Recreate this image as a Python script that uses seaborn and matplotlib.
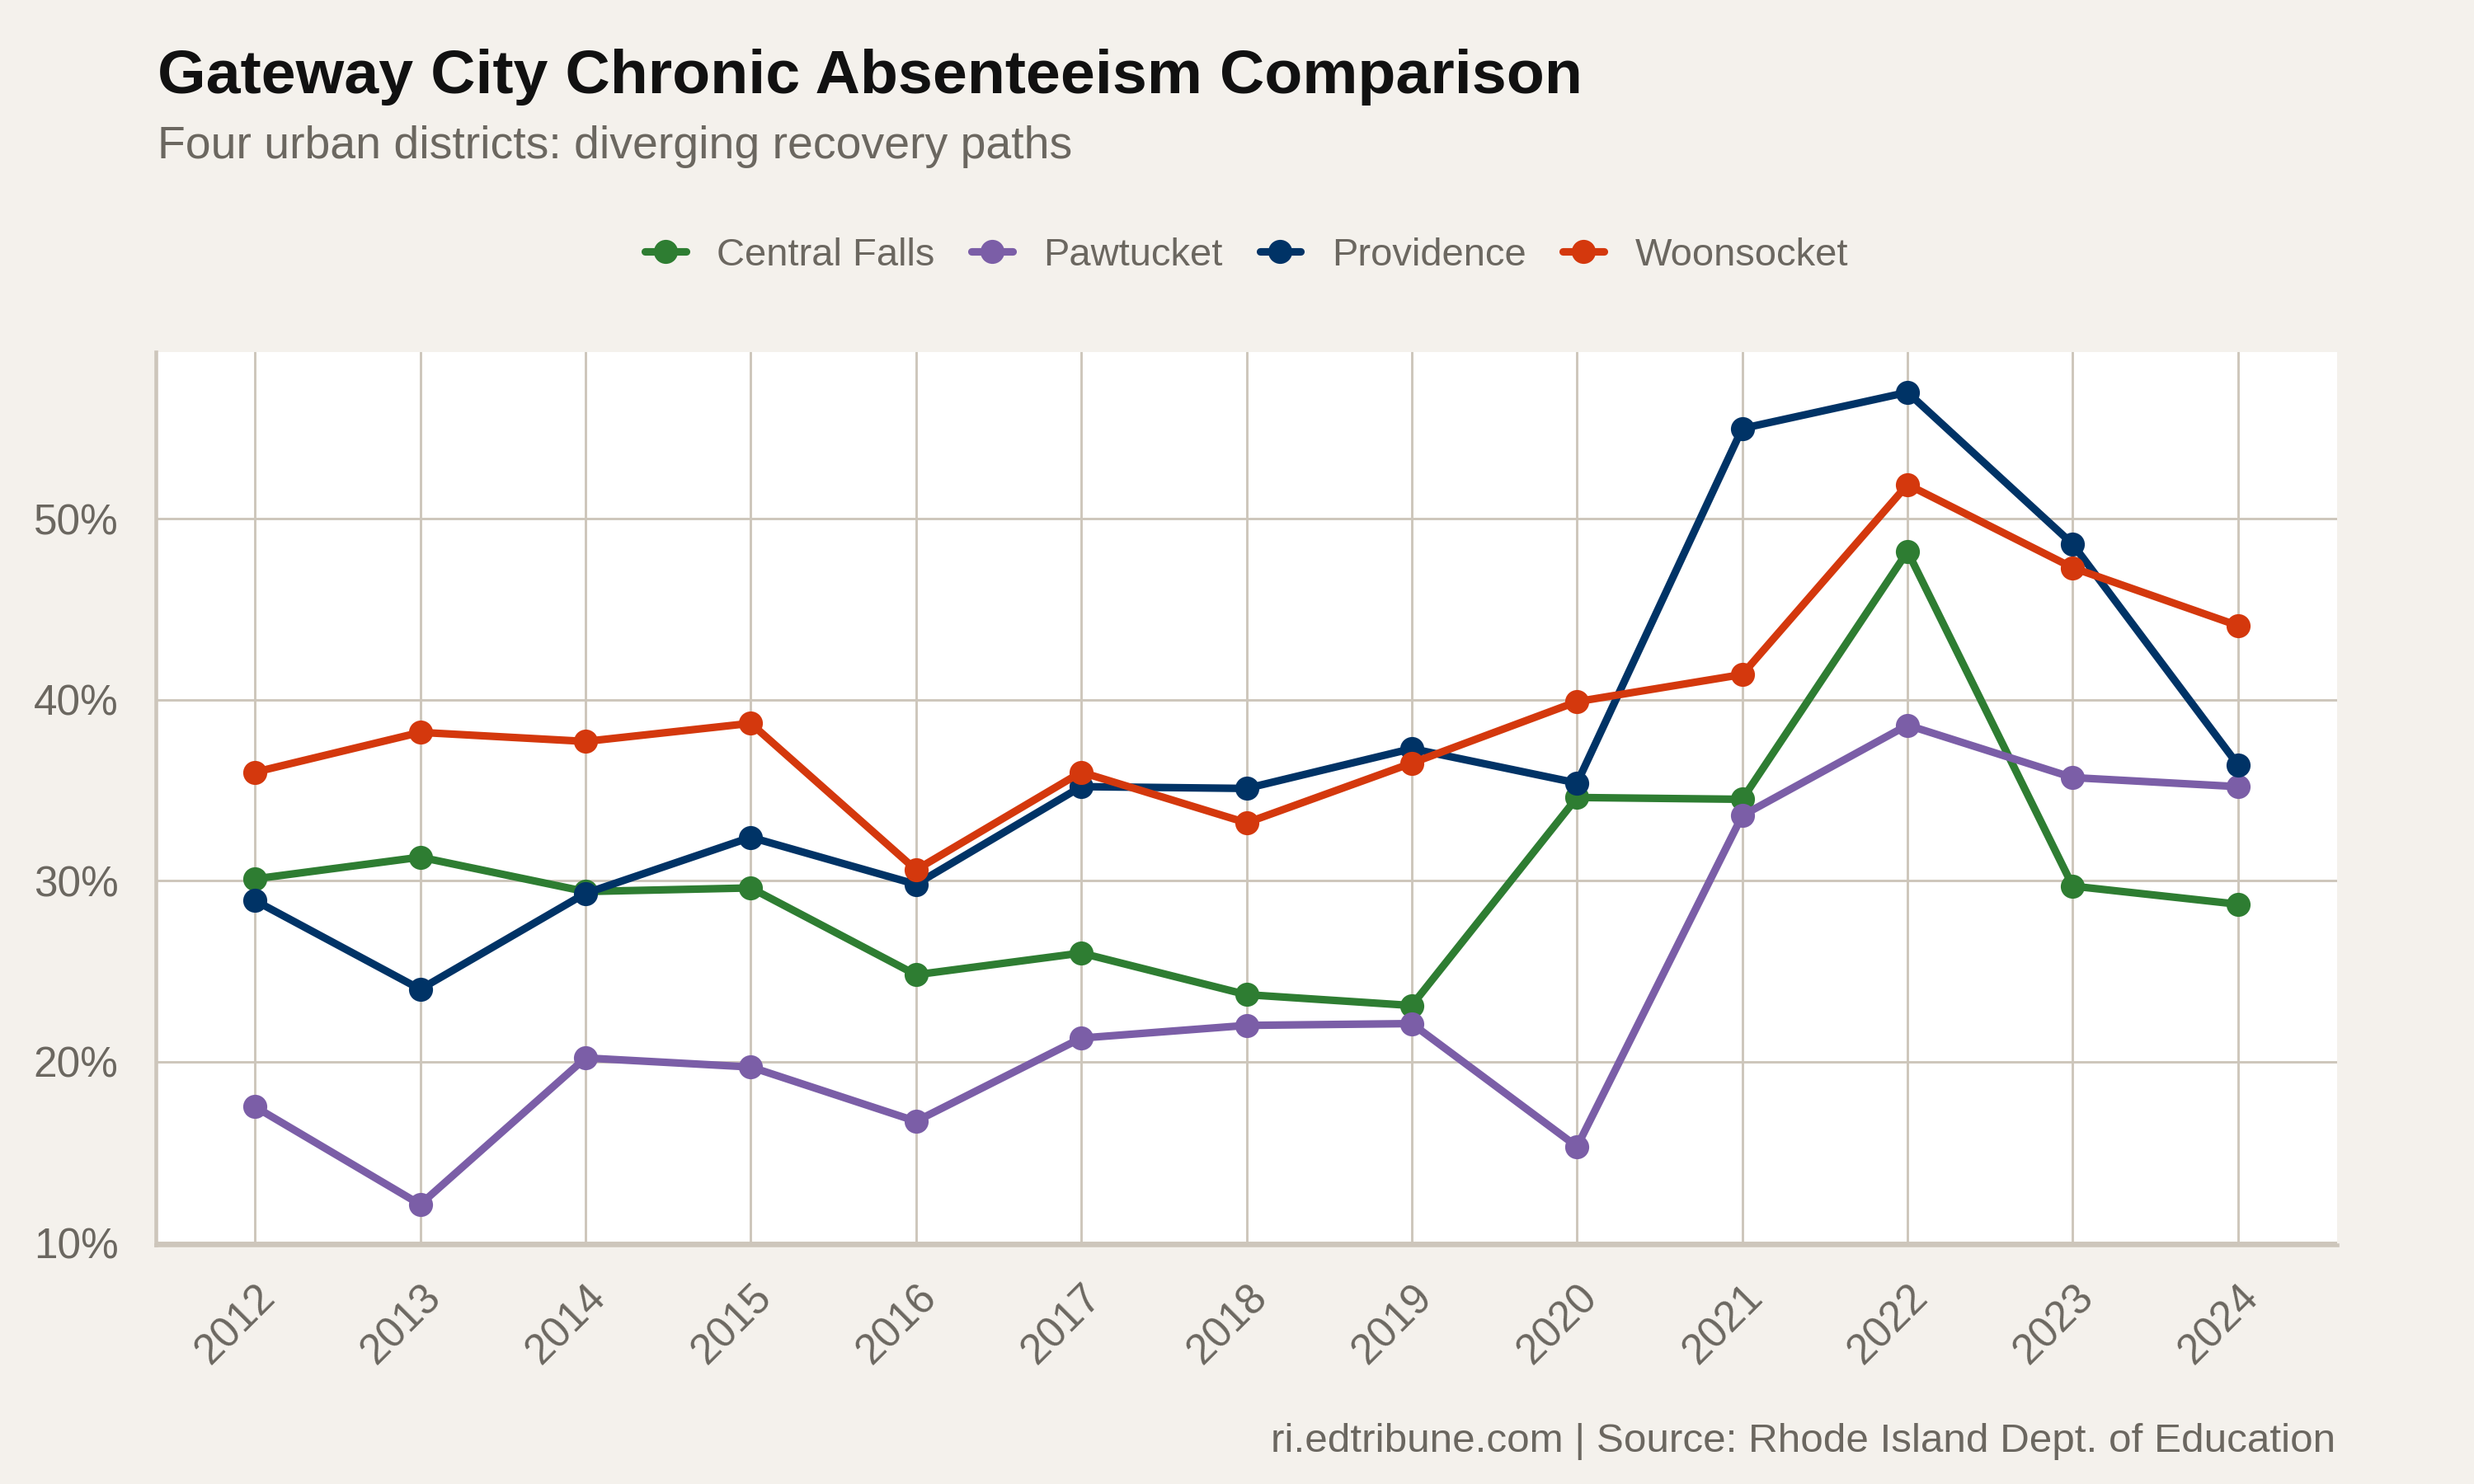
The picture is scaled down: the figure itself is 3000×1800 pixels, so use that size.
import matplotlib
matplotlib.use("Agg")
import matplotlib.pyplot as plt
import matplotlib.ticker as mticker
import numpy as np
import pandas as pd
import seaborn as sns

# data (chronic absenteeism, %)
years = list(range(2012, 2025))
central_falls = [30.1, 31.3, 29.4, 29.6, 24.8, 26.0, 23.7, 23.1, 34.6, 34.5, 48.2, 29.7, 28.7]
pawtucket = [17.5, 12.1, 20.2, 19.7, 16.7, 21.3, 22.0, 22.1, 15.3, 33.6, 38.6, 35.7, 35.2]
providence = [28.9, 24.0, 29.3, 32.4, 29.8, 35.2, 35.1, 37.3, 35.4, 55.0, 57.0, 48.6, 36.4]
woonsocket = [36.0, 38.2, 37.7, 38.7, 30.6, 36.0, 33.2, 36.5, 39.9, 41.4, 51.9, 47.3, 44.1]

districts = ["Central Falls", "Pawtucket", "Providence", "Woonsocket"]
colors = {"Central Falls": "#2e7d32", "Pawtucket": "#7b5ea7",
          "Providence": "#003366", "Woonsocket": "#d4380d"}

df = pd.DataFrame({
    "year": years * 4,
    "rate": central_falls + pawtucket + providence + woonsocket,
    "district": np.repeat(districts, len(years)),
})

bg = "#f4f1ec"
grid_col = "#cdc6bb"
text_col = "#6b6760"

sns.set_theme(style="whitegrid")
plt.rcParams["font.family"] = ["Liberation Sans", "DejaVu Sans"]

fig = plt.figure(figsize=(10, 6), dpi=300, facecolor=bg)
ax = fig.add_axes([0.063, 0.161, 0.8817, 0.602])
ax.set_facecolor("white")

sns.lineplot(data=df, x="year", y="rate", hue="district", hue_order=districts,
             palette=colors, marker="o", markersize=7, markeredgewidth=0,
             linewidth=2.2, ax=ax)

# ggplot-like 5% expansion
lo, hi = df["rate"].min(), df["rate"].max()
pad = (hi - lo) * 0.05
ax.set_ylim(lo - pad, hi + pad)
ax.set_xlim(2012 - 0.6, 2024 + 0.6)
ax.set_xticks(years)
ax.set_yticks([10, 20, 30, 40, 50])
ax.yaxis.set_major_formatter(mticker.FuncFormatter(lambda v, p: f"{v:.0f}%"))

ax.set_axisbelow(True)
ax.grid(True, color=grid_col, linewidth=0.7)
for s in ["top", "right"]:
    ax.spines[s].set_visible(False)
for s in ["left", "bottom"]:
    ax.spines[s].set_color(grid_col)
    ax.spines[s].set_linewidth(1.1)

ax.tick_params(axis="both", colors=grid_col, length=3.4, width=0.7,
               labelcolor=text_col, labelsize=12.3)
ax.tick_params(axis="y", pad=7.5)
ax.tick_params(axis="x", pad=6)
for lab in ax.get_xticklabels():
    lab.set_rotation(45)
    lab.set_ha("right")
    lab.set_va("top")
    lab.set_rotation_mode("anchor")
ax.set_xlabel("")
ax.set_ylabel("")

handles, labels = ax.get_legend_handles_labels()
leg = ax.legend(handles, labels, loc="center", bbox_to_anchor=(0.5, 1.108),
                ncol=4, frameon=False, fontsize=11.3, handlelength=1.05,
                handletextpad=0.8, columnspacing=0.95)
for t in leg.get_texts():
    t.set_color(text_col)

fig.text(0.0637, 1 - 113 / 1800, "Gateway City Chronic Absenteeism Comparison",
         fontsize=18.1, fontweight="bold", color="#111111", va="baseline", ha="left")
fig.text(0.0637, 1 - 192 / 1800, "Four urban districts: diverging recovery paths",
         fontsize=13.3, color=text_col, va="baseline", ha="left")
fig.text(0.944, 1 - 1761 / 1800, "ri.edtribune.com | Source: Rhode Island Dept. of Education",
         fontsize=11.85, color=text_col, va="baseline", ha="right")

fig.savefig("out.png", dpi=300, facecolor=bg)
